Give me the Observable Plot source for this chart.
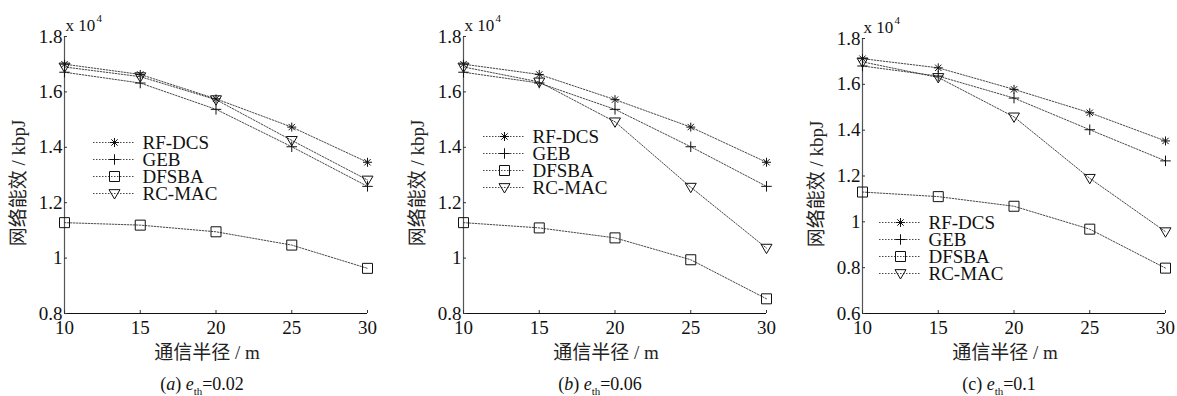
<!DOCTYPE html>
<html>
<head>
<meta charset="utf-8">
<script src="https://cdn.jsdelivr.net/npm/d3@7"></script>
<script src="https://cdn.jsdelivr.net/npm/@observablehq/plot@0.6"></script>
<style>
  html, body { margin: 0; padding: 0; background: #fff; }
  #wrap { position: relative; width: 1177px; height: 396px; overflow: hidden; background: #fff;
          font-family: "Liberation Serif", "Noto Sans CJK SC", serif; color: #111; }
  .panel, .legend, .cap { position: absolute; }
  .cap { font-size: 18px; white-space: nowrap; transform: translateX(-50%); line-height: 18px; }
  .cap sub { font-size: 11px; line-height: 0; }
</style>
</head>
<body>
<div id="wrap"></div>
<script>
// ---- data (values in units of 10^4 kbpJ) ----
const radius = [10, 15, 20, 25, 30];
const seriesNames = ["RF-DCS", "GEB", "DFSBA", "RC-MAC"];
const xTicks = [10, 15, 20, 25, 30];
const yTicksAB = [0.8, 1, 1.2, 1.4, 1.6, 1.8];
const yTicksC = [0.6, 0.8, 1, 1.2, 1.4, 1.6, 1.8];

// (a) e_th = 0.02
const rfdcsA = [1.700, 1.663, 1.575, 1.473, 1.346];
const gebA   = [1.671, 1.632, 1.537, 1.402, 1.259];
const dfsbaA = [1.128, 1.119, 1.095, 1.047, 0.963];
const rcmacA = [1.690, 1.655, 1.572, 1.425, 1.282];
// (b) e_th = 0.06
const rfdcsB = [1.700, 1.663, 1.572, 1.473, 1.346];
const gebB   = [1.671, 1.632, 1.537, 1.402, 1.259];
const dfsbaB = [1.128, 1.109, 1.073, 0.994, 0.853];
const rcmacB = [1.690, 1.636, 1.492, 1.256, 1.036];
// (c) e_th = 0.1
const rfdcsC = [1.712, 1.672, 1.578, 1.476, 1.353];
const gebC   = [1.680, 1.636, 1.540, 1.402, 1.266];
const dfsbaC = [1.130, 1.110, 1.068, 0.968, 0.798];
const rcmacC = [1.698, 1.630, 1.458, 1.190, 0.957];

const captions = [
  "(<i>a</i>) <i>e</i><sub>th</sub>=0.02",
  "(<i>b</i>) <i>e</i><sub>th</sub>=0.06",
  "(c) <i>e</i><sub>th</sub>=0.1"
];

// ---- custom MATLAB-like markers ----
const symAsterisk = {draw(ctx, size) {
  const r = Math.sqrt(size / Math.PI) * 0.9;
  for (const a of [0, 45, 90, 135]) {
    const t = a * Math.PI / 180, c = r * Math.cos(t), s = r * Math.sin(t);
    ctx.moveTo(c, s); ctx.lineTo(-c, -s);
  }
}};
const symPlus = {draw(ctx, size) {
  const r = Math.sqrt(size / Math.PI) * 1.05;
  ctx.moveTo(-r, 0); ctx.lineTo(r, 0); ctx.moveTo(0, -r); ctx.lineTo(0, r);
}};
const symSquare = {draw(ctx, size) {
  const s = Math.sqrt(size / Math.PI) * 1.0;
  ctx.moveTo(-s, -s); ctx.lineTo(s, -s); ctx.lineTo(s, s); ctx.lineTo(-s, s); ctx.closePath();
}};
const symTriDown = {draw(ctx, size) {
  const r = Math.sqrt(size / Math.PI) * 1.1;
  ctx.moveTo(-r, -0.7 * r); ctx.lineTo(r, -0.7 * r); ctx.lineTo(0, r); ctx.closePath();
}};
const symbols = [symAsterisk, symPlus, symSquare, symTriDown];

const FONT = '"Liberation Serif", "Noto Sans CJK SC", serif';
const DASH = "1.5,1.5";

const panels = [
  {vals: [rfdcsA, gebA, dfsbaA, rcmacA], yTicks: yTicksAB, left: 0, width: 390, ml: 64, mr: 23, mt: 36,
   legend: {left: 91, top: 134}, cap: 202},
  {vals: [rfdcsB, gebB, dfsbaB, rcmacB], yTicks: yTicksAB, left: 390, width: 390, ml: 73, mr: 14, mt: 36,
   legend: {left: 481, top: 128}, cap: 600},
  {vals: [rfdcsC, gebC, dfsbaC, rcmacC], yTicks: yTicksC, left: 780, width: 397, ml: 82, mr: 12, mt: 38,
   legend: {left: 877, top: 214}, cap: 999}
];

const wrap = document.getElementById("wrap");

panels.forEach((p, pi) => {
  const table = [];
  seriesNames.forEach((s, si) => radius.forEach((r, k) => table.push({series: s, x: r, y: p.vals[si][k]})));
  const yMin = p.yTicks[0], yMax = p.yTicks[p.yTicks.length - 1];
  const H = 365, bottom = 313;

  const marks = [
    Plot.ruleX([radius[0]], {stroke: "#555", strokeWidth: 1.2}),
    Plot.ruleY([yMin], {stroke: "#111", strokeWidth: 1.2}),
    Plot.axisX({ticks: xTicks, tickSize: -3, tickPadding: 10, tickFormat: d => String(d),
                fontSize: 19, label: null, stroke: "#333"}),
    Plot.axisY({ticks: p.yTicks, tickSize: -3, tickPadding: 5, tickFormat: d => String(+d.toFixed(1)),
                fontSize: 19, label: null, stroke: "#333"}),
    Plot.line(table, {x: "x", y: "y", z: "series", stroke: "#333", strokeWidth: 0.9, strokeDasharray: DASH}),
    ...seriesNames.map((s, si) => Plot.dot(table.filter(d => d.series === s),
      {x: "x", y: "y", r: 5, symbol: symbols[si], stroke: "#111", fill: "none", strokeWidth: 1})),
    Plot.text(["通信半径 / m"], {frameAnchor: "bottom", textAnchor: "middle", lineAnchor: "middle",
                               dy: 39, dx: -9, fontSize: 19, fill: "#222"}),
    Plot.text(["网络能效 / kbpJ"], {frameAnchor: "left", textAnchor: "middle", lineAnchor: "middle",
                                rotate: -90, dx: -46, dy: 8, fontSize: 19, fill: "#222"}),
    Plot.text(["x 10"], {frameAnchor: "top-left", textAnchor: "start", lineAnchor: "bottom", dx: 1, dy: -6, fontSize: 17, fill: "#111"}),
    Plot.text(["4"], {frameAnchor: "top-left", textAnchor: "start", lineAnchor: "bottom", dx: 32, dy: -15, fontSize: 11, fill: "#111"})
  ];

  const chart = Plot.plot({
    width: p.width, height: H,
    marginLeft: p.ml, marginRight: p.mr, marginTop: p.mt, marginBottom: H - bottom,
    x: {domain: [radius[0], radius[radius.length - 1]]},
    y: {domain: [yMin, yMax]},
    style: {fontFamily: FONT, fontSize: "19px", background: "transparent", overflow: "visible", color: "#111"},
    marks
  });
  chart.classList.add("panel");
  chart.style.left = p.left + "px";
  chart.style.top = "0px";
  wrap.appendChild(chart);

  // legend as its own small plot
  const lg = Plot.plot({
    width: 160, height: 70, margin: 0,
    x: {domain: [0, 1], range: [2, 44], axis: null},
    y: {domain: seriesNames, type: "point", range: [8, 59], padding: 0, axis: null},
    style: {fontFamily: FONT, fontSize: "19px", background: "transparent", overflow: "visible"},
    marks: [
      Plot.ruleY(seriesNames, {y: d => d, x1: 0, x2: 1, stroke: "#333", strokeWidth: 0.9, strokeDasharray: DASH}),
      ...seriesNames.map((s, si) => Plot.dot([s], {x: 0.5, y: d => d, r: 5, symbol: symbols[si], stroke: "#111", fill: "none", strokeWidth: 1})),
      Plot.text(seriesNames, {x: 1, y: d => d, text: d => d, textAnchor: "start", dx: 7, fontSize: 19, fill: "#111"})
    ]
  });
  lg.classList.add("legend");
  lg.style.left = p.legend.left + "px";
  lg.style.top = p.legend.top + "px";
  wrap.appendChild(lg);

  const cap = document.createElement("div");
  cap.className = "cap";
  cap.innerHTML = captions[pi];
  cap.style.left = p.cap + "px";
  cap.style.top = "375px";
  wrap.appendChild(cap);
});
</script>
</body>
</html>
